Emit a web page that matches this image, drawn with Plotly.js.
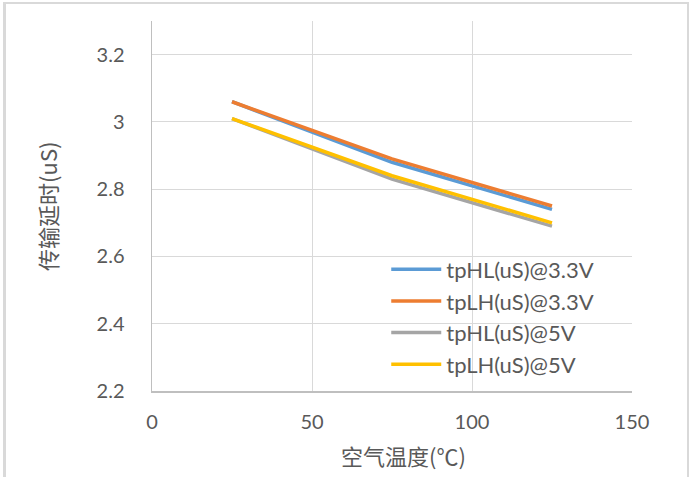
<!DOCTYPE html>
<html>
<head>
<meta charset="utf-8">
<script src="https://cdn.plot.ly/plotly-3.0.1.min.js"></script>
<style>
html,body{margin:0;padding:0;background:#fff;}
#wrap{position:relative;width:689px;height:477px;}
#chart{position:absolute;left:0;top:0;width:689px;height:477px;}
#frame{position:absolute;left:3px;top:2px;width:681px;height:480px;border-left:3px solid #d9d9d9;border-top:2px solid #d9d9d9;border-right:2px solid #d9d9d9;pointer-events:none;}
</style>
</head>
<body>
<div id="wrap"><div id="chart"></div><div id="frame"></div></div>
<script>
const temps = [25, 75, 125];
const tpHL33 = [3.06, 2.88, 2.74];
const tpLH33 = [3.06, 2.89, 2.75];
const tpHL5 = [3.01, 2.83, 2.69];
const tpLH5 = [3.01, 2.84, 2.70];
const seriesNames = ['tpHL(uS)@3.3V', 'tpLH(uS)@3.3V', 'tpHL(uS)@5V', 'tpLH(uS)@5V'];
const xTicks = [0, 50, 100, 150];
const yTicks = [2.2, 2.4, 2.6, 2.8, 3, 3.2];
const yTickText = ['2.2', '2.4', '2.6', '2.8', '3', '3.2'];
const xTitle = '空气温度(℃)';
const yTitle = '传输延时(uS)';

const colors = ['#5B9BD5', '#ED7D31', '#A5A5A5', '#FFC000'];
const allY = [tpHL33, tpLH33, tpHL5, tpLH5];
const font = "Lato, 'Noto Sans CJK SC', sans-serif";
const cjk = "'Noto Sans CJK SC', Lato, sans-serif";
const traces = allY.map((y, i) => ({
  x: temps, y: y, name: seriesNames[i], type: 'scatter', mode: 'lines',
  line: {color: colors[i], width: 3.5}
}));

const layout = {
  width: 689, height: 477,
  margin: {l: 152, r: 57, t: 21, b: 86},
  paper_bgcolor: '#fff', plot_bgcolor: '#fff',
  font: {family: font, color: '#595959', size: 20},
  showlegend: true,
  legend: {
    x: 0.488, y: 0.385, xanchor: 'left', yanchor: 'top',
    bgcolor: 'rgba(0,0,0,0)', font: {size: 22, color: '#595959', family: font},
    tracegroupgap: 0, itemwidth: 50
  },
  xaxis: {
    range: [0, 150], tickvals: xTicks, ticktext: xTicks.map(String),
    showgrid: true, gridcolor: '#d9d9d9', gridwidth: 1,
    showline: true, linecolor: '#bfbfbf', linewidth: 1.5,
    zeroline: false, ticks: '', ticklabelstandoff: 12,
    tickfont: {size: 20, color: '#595959', family: font}
  },
  yaxis: {
    range: [2.2, 3.3], tickvals: yTicks, ticktext: yTickText,
    showgrid: true, gridcolor: '#d9d9d9', gridwidth: 1,
    showline: true, linecolor: '#bfbfbf', linewidth: 1.5,
    zeroline: false, ticks: '', ticklabelstandoff: 22,
    tickfont: {size: 20, color: '#595959', family: font}
  },
  annotations: [
    {text: xTitle, xref: 'paper', yref: 'paper', x: 0.523, y: -0.173,
     xanchor: 'center', yanchor: 'middle', showarrow: false,
     font: {family: cjk, size: 22, color: '#595959'}},
    {text: yTitle, xref: 'paper', yref: 'paper', x: -0.219, y: 0.5,
     xanchor: 'center', yanchor: 'middle', showarrow: false, textangle: -90,
     font: {family: cjk, size: 22, color: '#595959'}}
  ]
};
Plotly.newPlot('chart', traces, layout, {displayModeBar: false, staticPlot: true});
</script>
</body>
</html>
